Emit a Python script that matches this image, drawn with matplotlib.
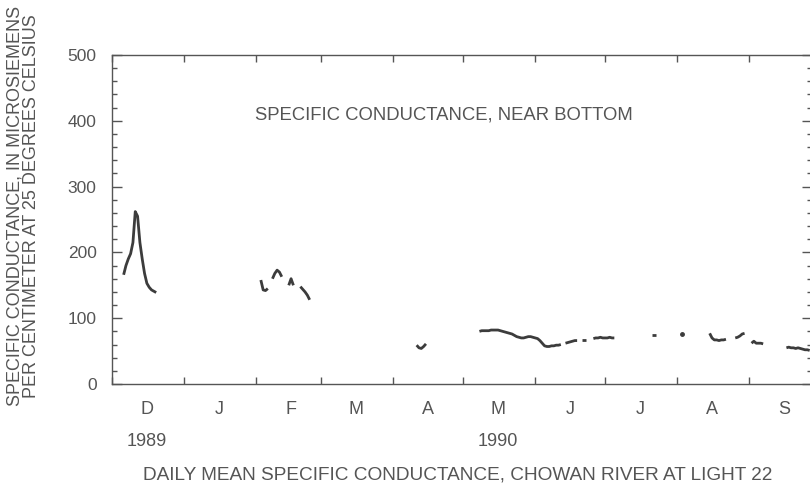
import pandas as pd
import matplotlib
matplotlib.use("Agg")
import matplotlib.pyplot as plt
import matplotlib.dates as mdates
from matplotlib.ticker import MultipleLocator, FuncFormatter

plt.rcParams['font.family'] = ['Liberation Sans', 'DejaVu Sans']

# record starts Dec 1 1989, days counted from there
start = pd.Timestamp("1989-12-01")

dec_days = [5, 6, 7, 8, 9, 10, 11, 12, 13, 14, 15, 16, 17, 18, 19]
dec_vals = [166, 180, 190, 198, 215, 262, 255, 215, 190, 168, 153, 147, 143, 141, 139]

feb1_days = [64, 65, 66, 67]
feb1_vals = [158, 143, 142, 145]
feb2_days = [69, 70, 71, 72, 73]
feb2_vals = [160, 168, 173, 170, 163]
feb3_days = [76, 77, 78]
feb3_vals = [150, 160, 150]
feb4_days = [81, 82, 83, 84, 85]
feb4_vals = [148, 144, 140, 135, 128]

apr_days = [131, 132, 133, 134, 135]
apr_vals = [59, 55, 54, 57, 61]

may_days = [158, 159, 160, 161, 162, 163, 164, 165, 166, 167, 168, 169, 170, 171, 172,
            173, 174, 175, 176, 177, 178, 179, 180, 181, 182, 183, 184, 185, 186, 187,
            188, 189, 190, 191, 192, 193]
may_vals = [80, 81, 81, 81, 81, 82, 82, 82, 82, 81, 80, 79, 78, 77, 76,
            74, 72, 71, 70, 70, 71, 72, 72, 71, 70, 69, 66, 62, 58, 57,
            57, 58, 58, 59, 59, 60]

jun1_days = [195, 196, 197, 198, 199, 200]
jun1_vals = [62, 63, 64, 65, 66, 66]
jun2_days = [202, 203, 204]
jun2_vals = [67, 67, 67]
jun3_days = [207, 208, 209, 210, 211, 212, 213, 214, 215, 216]
jun3_vals = [69, 70, 70, 71, 70, 70, 70, 71, 70, 70]

jul_days = [232, 233, 234]
jul_vals = [74, 74, 74]
jul_dot_day = [245]
jul_dot_val = [76]

aug1_days = [257, 258, 259, 260, 261, 262, 263, 264]
aug1_vals = [77, 70, 67, 67, 66, 67, 67, 68]
aug2_days = [268, 269, 270, 271, 272]
aug2_vals = [70, 71, 73, 76, 77]
aug3_days = [275, 276, 277, 278, 279, 280]
aug3_vals = [62, 65, 62, 62, 62, 61]

sep_days = [290, 291, 292, 293, 294, 295, 296, 297, 298, 299, 300]
sep_vals = [55, 56, 55, 55, 54, 55, 54, 53, 52, 52, 51]

segments = [
    (dec_days, dec_vals), (feb1_days, feb1_vals), (feb2_days, feb2_vals),
    (feb3_days, feb3_vals), (feb4_days, feb4_vals), (apr_days, apr_vals),
    (may_days, may_vals), (jun1_days, jun1_vals), (jun2_days, jun2_vals),
    (jun3_days, jun3_vals), (jul_days, jul_vals), (aug1_days, aug1_vals),
    (aug2_days, aug2_vals), (aug3_days, aug3_vals), (sep_days, sep_vals),
]

line_col = "#3c3c3c"
text_col = "#555555"


def to_dates(days):
    return start + pd.to_timedelta(days, unit="D")


fig = plt.figure(figsize=(8.1, 4.87), dpi=100)
ax = fig.add_axes([112 / 810, 103 / 487, 700 / 810, 329 / 487])

for d, v in segments:
    ax.plot(to_dates(d), v, color=line_col, lw=2.0, solid_capstyle="butt")
ax.plot(to_dates(jul_dot_day), jul_dot_val, "o", color=line_col, ms=2.5)

ax.set_xlim(start, start + pd.Timedelta(days=301))
ax.set_ylim(0, 500)

# month boundaries as ticks, month initials at mid-month
ax.xaxis.set_major_locator(mdates.MonthLocator())
ax.xaxis.set_major_formatter(FuncFormatter(lambda x, p: ""))
ax.xaxis.set_minor_locator(mdates.MonthLocator(bymonthday=16))
ax.xaxis.set_minor_formatter(FuncFormatter(lambda x, p: mdates.num2date(x).strftime("%b")[0]))
ax.tick_params(axis="x", which="major", direction="in", length=5, width=1,
               top=True, color=text_col)
ax.tick_params(axis="x", which="minor", length=0, pad=12, labelsize=13,
               labelcolor=text_col)

ax.yaxis.set_major_locator(MultipleLocator(100))
ax.yaxis.set_minor_locator(MultipleLocator(20))
ax.tick_params(axis="y", which="major", direction="in", length=7, width=1,
               right=True, pad=11, labelsize=12.5, labelcolor=text_col, color=text_col)
ax.tick_params(axis="y", which="minor", direction="in", length=3.6, width=1,
               right=True, color=text_col)

for s in ax.spines.values():
    s.set_color(text_col)
    s.set_linewidth(1.0)

ax.text(start + pd.Timedelta(days=61.5), 409, "SPECIFIC CONDUCTANCE, NEAR BOTTOM",
        fontsize=13.3, color=text_col, va="center", ha="left")

trans = ax.get_xaxis_transform()
ax.text(start + pd.Timedelta(days=15), -0.175, "1989", transform=trans,
        fontsize=13, color=text_col, ha="center", va="center")
ax.text(pd.Timestamp("1990-05-16"), -0.175, "1990", transform=trans,
        fontsize=13, color=text_col, ha="center", va="center")

ax.set_ylabel("SPECIFIC CONDUCTANCE, IN MICROSIEMENS\nPER CENTIMETER AT 25 DEGREES CELSIUS",
              fontsize=13, color=text_col, linespacing=0.95)
ax.yaxis.set_label_coords(-0.103, 0.54)

fig.text(0.565, 0.024, "DAILY MEAN SPECIFIC CONDUCTANCE, CHOWAN RIVER AT LIGHT 22",
         fontsize=13.7, color=text_col, ha="center", va="center")

fig.savefig("out.png", dpi=100)
